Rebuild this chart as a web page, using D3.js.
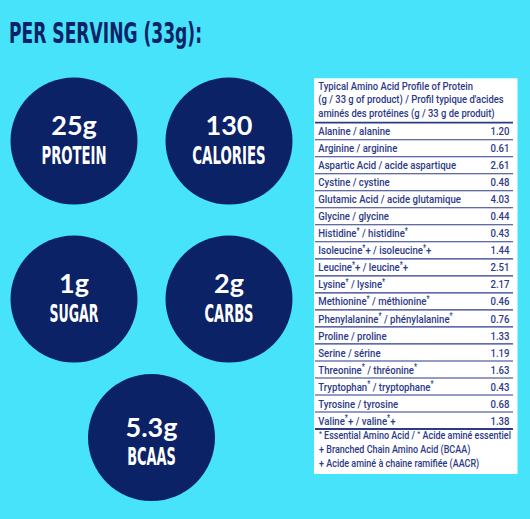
<!DOCTYPE html>
<html><head><meta charset="utf-8">
<script src="https://cdn.jsdelivr.net/npm/d3@7"></script>
<style>html,body{margin:0;padding:0;background:#46E3FB;}svg{display:block;}</style>
</head><body>
<svg id="c" width="530" height="519"></svg>
<script>
// ---- data ----
const title = "PER SERVING (33g):";
const statValues = ["25g", "130", "1g", "2g", "5.3g"];
const statLabels = ["PROTEIN", "CALORIES", "SUGAR", "CARBS", "BCAAS"];
const tableHeader = [
  "Typical Amino Acid Profile of Protein",
  "(g / 33 g of product) / Profil typique d'acides",
  "aminés des protéines (g / 33 g de produit)"
];
const aminoNames = [
  "Alanine / alanine", "Arginine / arginine", "Aspartic Acid / acide aspartique",
  "Cystine / cystine", "Glutamic Acid / acide glutamique", "Glycine / glycine",
  "Histidine* / histidine*", "Isoleucine*+ / isoleucine*+", "Leucine*+ / leucine*+",
  "Lysine* / lysine*", "Methionine* / méthionine*", "Phenylalanine* / phénylalanine*",
  "Proline / proline", "Serine / sérine", "Threonine* / thréonine*",
  "Tryptophan* / tryptophane*", "Tyrosine / tyrosine", "Valine*+ / valine*+"
];
const aminoValues = [1.20, 0.61, 2.61, 0.48, 4.03, 0.44, 0.43, 1.44, 2.51, 2.17, 0.46, 0.76, 1.33, 1.19, 1.63, 0.43, 0.68, 1.38];
const footnotes = [
  "* Essential Amino Acid / * Acide aminé essentiel",
  "+ Branched Chain Amino Acid (BCAA)",
  "+ Acide aminé à chaîne ramifiée (AACR)"
];

// ---- style ----
const NAVY = "#0C2266";
const TXT = "#2D3A88";
const condensed = "'Liberation Sans Narrow','DejaVu Sans Condensed','Arial Narrow',sans-serif";
const tableFont = "Roboto, 'Noto Sans', sans-serif";

const svg = d3.select("#c");

// title
svg.append("text").attr("x", 9).attr("y", 42.7)
  .attr("font-family", condensed).attr("font-weight", 700).attr("font-size", 29)
  .attr("fill", NAVY).attr("textLength", 193).attr("lengthAdjust", "spacingAndGlyphs")
  .text(title);

// circles
const colX = d3.scalePoint().domain([0, 1]).range([74, 229]);
const rowY = d3.scalePoint().domain([0, 1]).range([141, 299]);
const pos = statValues.map((v, i) => i < 4 ? {x: colX(i % 2), y: rowY(Math.floor(i / 2)), dn: -6, dl: 23}
                                           : {x: (colX(0) + colX(1)) / 2 + 0, y: 437.5, dn: -1, dl: 27});
const labelW = [65, 73.4, 49, 49, 48.7];
const g = svg.append("g").selectAll("g").data(statValues).join("g")
  .attr("transform", (d, i) => `translate(${pos[i].x},${pos[i].y})`);
g.append("circle").attr("r", 63.5).attr("fill", NAVY);
g.append("text").attr("y", (d, i) => pos[i].dn).attr("text-anchor", "middle")
  .attr("font-family", "Lato, 'Noto Sans', sans-serif").attr("font-weight", 700)
  .attr("font-size", 27).attr("fill", "#fff").text(d => d);
g.append("text").attr("y", (d, i) => pos[i].dl).attr("text-anchor", "middle")
  .attr("font-family", condensed).attr("font-weight", 700).attr("font-size", 24)
  .attr("fill", "#fff").attr("textLength", (d, i) => labelW[i]).attr("lengthAdjust", "spacingAndGlyphs")
  .text((d, i) => statLabels[i]);

// table
const T = {x0: 314, x1: 517.5, y0: 78.3, y1: 474};
const tbl = svg.append("g");
tbl.append("rect").attr("x", T.x0).attr("y", T.y0).attr("width", T.x1 - T.x0).attr("height", T.y1 - T.y0).attr("fill", "#fff");

function richText(sel, str, fs) {
  const parts = str.split(/(\*)/);
  let pending = 0;
  parts.forEach(p => {
    if (!p) return;
    if (p === "*") {
      const s = fs * 0.32;
      sel.append("tspan").attr("font-size", fs * 0.72).attr("dy", -s + pending).text("*");
      pending = s;
    } else {
      sel.append("tspan").attr("dy", pending).text(p);
      pending = 0;
    }
  });
}
function condense(texts, refNode, target) {
  const k = target / refNode.getComputedTextLength();
  texts.each(function() {
    const t = d3.select(this);
    t.attr("transform", `translate(${t.attr("data-x")},${t.attr("data-y")}) scale(${k},1)`);
  });
}

const tx = 318.3;
const hdrFs = 10.8, rowFs = 11.4, fnFs = 10.8;
const hdr = tbl.append("g").attr("font-family", tableFont).attr("font-weight", 500).attr("font-size", hdrFs).attr("fill", TXT);
const hdrTexts = hdr.selectAll("text").data(tableHeader).join("text")
  .attr("data-x", tx).attr("data-y", (d, i) => 89.5 + i * 13.8).text(d => d);
condense(hdrTexts, hdrTexts.nodes()[0], 155);

const band = d3.scaleBand().domain(aminoNames).range([122.7, 429]);
const lineX0 = 315, lineX1 = 513;
tbl.append("line").attr("x1", lineX0).attr("x2", lineX1).attr("y1", band.range()[0]).attr("y2", band.range()[0])
  .attr("stroke", TXT).attr("stroke-width", 1.8);
const rows = tbl.selectAll("g.row").data(aminoNames).join("g").attr("class", "row")
  .attr("transform", d => `translate(0,${band(d)})`);
rows.append("line").attr("x1", lineX0).attr("x2", lineX1)
  .attr("y1", band.bandwidth()).attr("y2", band.bandwidth())
  .attr("stroke", TXT).attr("stroke-width", (d, i) => i === aminoNames.length - 1 ? 1.8 : 1.1);
const nameTexts = rows.append("text").attr("class", "nm").attr("data-x", tx).attr("data-y", band.bandwidth() - 4.4)
  .attr("font-family", tableFont).attr("font-weight", 500).attr("font-size", rowFs).attr("fill", TXT)
  .each(function(d){ richText(d3.select(this), d, rowFs); });
const valTexts = rows.append("text").attr("data-x", 509.5).attr("data-y", band.bandwidth() - 4.4).attr("text-anchor", "end")
  .attr("font-family", tableFont).attr("font-weight", 500).attr("font-size", rowFs).attr("fill", TXT)
  .text((d, i) => d3.format(".2f")(aminoValues[i]));
const refRow = nameTexts.nodes()[aminoNames.indexOf("Glutamic Acid / acide glutamique")];
condense(nameTexts, refRow, 142.7);
condense(valTexts, refRow, 142.7);

const fn = tbl.append("g").attr("font-family", tableFont).attr("font-weight", 500).attr("font-size", fnFs).attr("fill", TXT);
const fnTexts = fn.selectAll("text").data(footnotes).join("text")
  .attr("data-x", 319).attr("data-y", (d, i) => 439 + i * 13.8)
  .each(function(d){ richText(d3.select(this), d, fnFs); });
condense(fnTexts, fnTexts.nodes()[0], 192);
</script>
</body></html>
